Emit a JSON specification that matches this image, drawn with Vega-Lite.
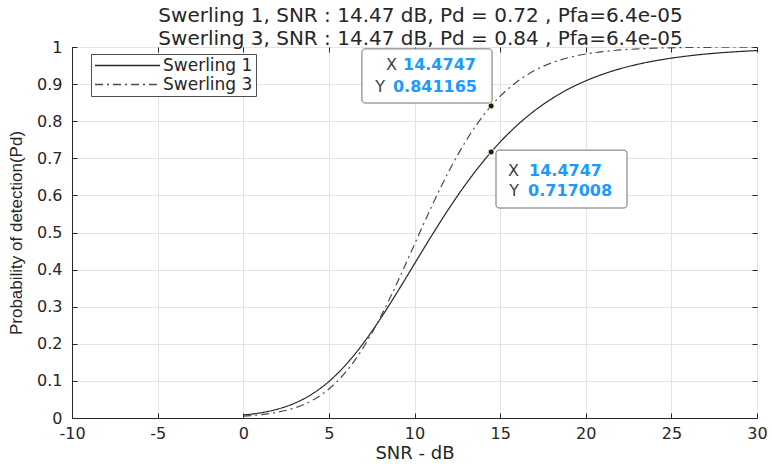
{
  "$schema": "https://vega.github.io/schema/vega-lite/v6.json",
  "autosize": {"type": "none"},
  "padding": {"left": 72, "top": 47, "right": 15, "bottom": 46},
  "width": 685,
  "height": 371,
  "background": "white",
  "title": {
    "text": ["Swerling 1, SNR : 14.47 dB, Pd = 0.72 , Pfa=6.4e-05", "Swerling 3, SNR : 14.47 dB, Pd = 0.84 , Pfa=6.4e-05"],
    "font": "DejaVu Sans", "fontSize": 20, "fontWeight": "normal", "color": "#262626",
    "lineHeight": 23, "offset": -10, "dx": 6, "anchor": "middle"
  },
  "config": {
    "view": {"stroke": "#262626", "strokeWidth": 1},
    "axis": {
      "labelFont": "DejaVu Sans", "labelFontSize": 16, "labelColor": "#262626",
      "titleFont": "DejaVu Sans", "titleFontWeight": "normal", "titleColor": "#262626",
      "gridColor": "#e4e4e4", "gridWidth": 1,
      "domainColor": "#262626", "tickColor": "#262626", "tickSize": -5
    }
  },
  "datasets": {
    "curves": [
      {"snr": 0, "pd": 0.0080, "series": "Swerling 1"},
      {"snr": 1, "pd": 0.0139, "series": "Swerling 1"},
      {"snr": 2, "pd": 0.0239, "series": "Swerling 1"},
      {"snr": 3, "pd": 0.0398, "series": "Swerling 1"},
      {"snr": 4, "pd": 0.0640, "series": "Swerling 1"},
      {"snr": 5, "pd": 0.0983, "series": "Swerling 1"},
      {"snr": 6, "pd": 0.1439, "series": "Swerling 1"},
      {"snr": 7, "pd": 0.2006, "series": "Swerling 1"},
      {"snr": 8, "pd": 0.2668, "series": "Swerling 1"},
      {"snr": 9, "pd": 0.3397, "series": "Swerling 1"},
      {"snr": 10, "pd": 0.4157, "series": "Swerling 1"},
      {"snr": 11, "pd": 0.4913, "series": "Swerling 1"},
      {"snr": 12, "pd": 0.5638, "series": "Swerling 1"},
      {"snr": 13, "pd": 0.6307, "series": "Swerling 1"},
      {"snr": 14, "pd": 0.6909, "series": "Swerling 1"},
      {"snr": 14.4747, "pd": 0.7170, "series": "Swerling 1"},
      {"snr": 15, "pd": 0.7438, "series": "Swerling 1"},
      {"snr": 16, "pd": 0.7893, "series": "Swerling 1"},
      {"snr": 17, "pd": 0.8279, "series": "Swerling 1"},
      {"snr": 18, "pd": 0.8601, "series": "Swerling 1"},
      {"snr": 19, "pd": 0.8869, "series": "Swerling 1"},
      {"snr": 20, "pd": 0.9088, "series": "Swerling 1"},
      {"snr": 21, "pd": 0.9267, "series": "Swerling 1"},
      {"snr": 22, "pd": 0.9413, "series": "Swerling 1"},
      {"snr": 23, "pd": 0.9530, "series": "Swerling 1"},
      {"snr": 24, "pd": 0.9624, "series": "Swerling 1"},
      {"snr": 25, "pd": 0.9700, "series": "Swerling 1"},
      {"snr": 26, "pd": 0.9761, "series": "Swerling 1"},
      {"snr": 27, "pd": 0.9810, "series": "Swerling 1"},
      {"snr": 28, "pd": 0.9848, "series": "Swerling 1"},
      {"snr": 29, "pd": 0.9879, "series": "Swerling 1"},
      {"snr": 30, "pd": 0.9904, "series": "Swerling 1"},
      {"snr": 0, "pd": 0.0050, "series": "Swerling 3"},
      {"snr": 1, "pd": 0.0088, "series": "Swerling 3"},
      {"snr": 2, "pd": 0.0155, "series": "Swerling 3"},
      {"snr": 3, "pd": 0.0272, "series": "Swerling 3"},
      {"snr": 4, "pd": 0.0468, "series": "Swerling 3"},
      {"snr": 5, "pd": 0.0781, "series": "Swerling 3"},
      {"snr": 6, "pd": 0.1247, "series": "Swerling 3"},
      {"snr": 7, "pd": 0.1890, "series": "Swerling 3"},
      {"snr": 8, "pd": 0.2706, "series": "Swerling 3"},
      {"snr": 9, "pd": 0.3658, "series": "Swerling 3"},
      {"snr": 10, "pd": 0.4682, "series": "Swerling 3"},
      {"snr": 11, "pd": 0.5701, "series": "Swerling 3"},
      {"snr": 12, "pd": 0.6645, "series": "Swerling 3"},
      {"snr": 13, "pd": 0.7466, "series": "Swerling 3"},
      {"snr": 14, "pd": 0.8142, "series": "Swerling 3"},
      {"snr": 14.4747, "pd": 0.8412, "series": "Swerling 3"},
      {"snr": 15, "pd": 0.8672, "series": "Swerling 3"},
      {"snr": 16, "pd": 0.9072, "series": "Swerling 3"},
      {"snr": 17, "pd": 0.9364, "series": "Swerling 3"},
      {"snr": 18, "pd": 0.9570, "series": "Swerling 3"},
      {"snr": 19, "pd": 0.9714, "series": "Swerling 3"},
      {"snr": 20, "pd": 0.9811, "series": "Swerling 3"},
      {"snr": 21, "pd": 0.9877, "series": "Swerling 3"},
      {"snr": 22, "pd": 0.9920, "series": "Swerling 3"},
      {"snr": 23, "pd": 0.9948, "series": "Swerling 3"},
      {"snr": 24, "pd": 0.9967, "series": "Swerling 3"},
      {"snr": 25, "pd": 0.9979, "series": "Swerling 3"},
      {"snr": 26, "pd": 0.9987, "series": "Swerling 3"},
      {"snr": 27, "pd": 0.9991, "series": "Swerling 3"},
      {"snr": 28, "pd": 0.9995, "series": "Swerling 3"},
      {"snr": 29, "pd": 0.9997, "series": "Swerling 3"},
      {"snr": 30, "pd": 0.9998, "series": "Swerling 3"}
    ],
    "tips": [
      {"snr": 14.4747, "pd": 0.841165},
      {"snr": 14.4747, "pd": 0.717008}
    ],
    "boxes": [
      {"x1": 6.93, "x2": 14.53, "y1": 0.849, "y2": 0.995},
      {"x1": 14.76, "x2": 22.41, "y1": 0.566, "y2": 0.722}
    ],
    "tiptext": [
      {"lx": 8.98, "vx": 9.33, "y": 0.9515, "label": "X", "value": "14.4747"},
      {"lx": 8.28, "vx": 8.74, "y": 0.8922, "label": "Y", "value": "0.841165"},
      {"lx": 16.10, "vx": 16.69, "y": 0.6658, "label": "X", "value": "14.4747"},
      {"lx": 16.10, "vx": 16.63, "y": 0.6119, "label": "Y", "value": "0.717008"}
    ]
  },
  "resolve": {"axis": {"x": "independent", "y": "independent"}},
  "layer": [
    {
      "data": {"name": "curves"},
      "mark": {"type": "line", "strokeWidth": 1.2, "interpolate": "monotone", "clip": true},
      "encoding": {
        "x": {"field": "snr", "type": "quantitative",
              "scale": {"domain": [-10, 30], "nice": false, "zero": false},
              "axis": {"values": [-10, -5, 0, 5, 10, 15, 20, 25, 30], "labelExpr": "'' + datum.value",
                       "grid": true, "title": "SNR - dB", "titleFontSize": 18, "titlePadding": 3, "labelPadding": 12, "labelFlush": false}},
        "y": {"field": "pd", "type": "quantitative",
              "scale": {"domain": [0, 1], "nice": false},
              "axis": {"values": [0, 0.1, 0.2, 0.3, 0.4, 0.5, 0.6, 0.7, 0.8, 0.9, 1], "format": "~g",
                       "grid": true, "title": "Probability of detection(Pd)", "titleFont": "Liberation Sans", "titleFontSize": 17,
                       "titlePadding": 11, "labelPadding": 15, "labelFlush": false}},
        "color": {"field": "series", "type": "nominal",
                  "scale": {"domain": ["Swerling 1", "Swerling 3"], "range": ["#262626", "#4a4a4a"]},
                  "legend": {"orient": "none", "legendX": 19, "legendY": 7, "title": null,
                             "fillColor": "white", "strokeColor": "#505050", "padding": 3,
                             "symbolType": "stroke", "symbolSize": 4225, "symbolStrokeWidth": 1.5,
                             "labelFont": "DejaVu Sans", "labelFontSize": 17, "labelColor": "#262626",
                             "labelOffset": 2, "rowPadding": 1, "clipHeight": 17}},
        "strokeDash": {"field": "series", "type": "nominal",
                       "scale": {"domain": ["Swerling 1", "Swerling 3"], "range": [[1, 0], [8, 4, 2, 4]]},
                       "legend": {"orient": "none", "legendX": 19, "legendY": 7, "title": null,
                             "fillColor": "white", "strokeColor": "#505050", "padding": 3,
                             "symbolType": "stroke", "symbolSize": 4225, "symbolStrokeWidth": 1.5,
                             "labelFont": "DejaVu Sans", "labelFontSize": 17, "labelColor": "#262626",
                             "labelOffset": 2, "rowPadding": 1, "clipHeight": 17}}
      }
    },
    {
      "data": {"name": "boxes"},
      "mark": {"type": "rect", "fill": "white", "stroke": "#707070", "strokeWidth": 1, "cornerRadius": 3},
      "encoding": {
        "x": {"field": "x1", "type": "quantitative", "axis": null},
        "x2": {"field": "x2"},
        "y": {"field": "y1", "type": "quantitative", "axis": null},
        "y2": {"field": "y2"}
      }
    },
    {
      "data": {"name": "tiptext"},
      "mark": {"type": "text", "align": "right", "baseline": "middle", "font": "DejaVu Sans", "fontSize": 16, "color": "#404040"},
      "encoding": {
        "x": {"field": "lx", "type": "quantitative", "axis": null},
        "y": {"field": "y", "type": "quantitative", "axis": null},
        "text": {"field": "label"}
      }
    },
    {
      "data": {"name": "tiptext"},
      "mark": {"type": "text", "align": "left", "baseline": "middle", "font": "DejaVu Sans", "fontSize": 16, "fontWeight": "bold", "color": "#1a9bff"},
      "encoding": {
        "x": {"field": "vx", "type": "quantitative", "axis": null},
        "y": {"field": "y", "type": "quantitative", "axis": null},
        "text": {"field": "value"}
      }
    },
    {
      "data": {"name": "tips"},
      "mark": {"type": "point", "filled": true, "shape": "circle", "size": 36, "color": "#1a1a1a", "stroke": "#e8e4c0", "strokeWidth": 1, "opacity": 1},
      "encoding": {
        "x": {"field": "snr", "type": "quantitative",
              "axis": {"orient": "top", "values": [-10, -5, 0, 5, 10, 15, 20, 25, 30], "labels": false, "title": null, "grid": false, "domain": false}},
        "y": {"field": "pd", "type": "quantitative",
              "axis": {"orient": "right", "values": [0, 0.1, 0.2, 0.3, 0.4, 0.5, 0.6, 0.7, 0.8, 0.9, 1], "labels": false, "title": null, "grid": false, "domain": false}}
      }
    }
  ]
}
